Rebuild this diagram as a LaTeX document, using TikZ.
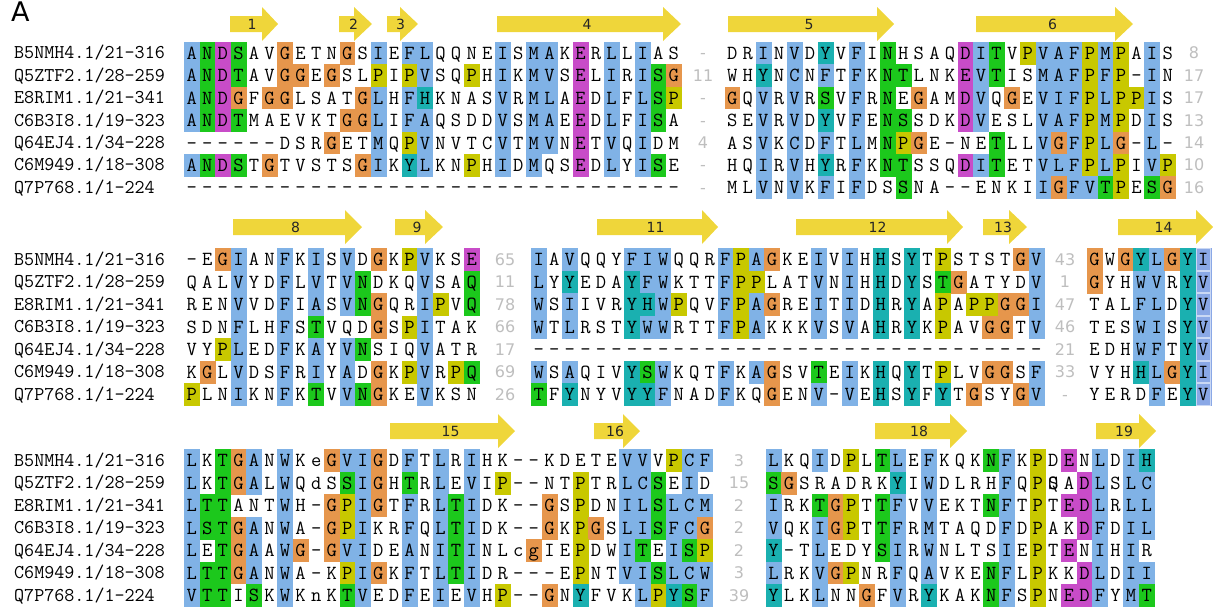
\documentclass[tikz,border=0pt]{standalone}
\usepackage{fontspec}
\newfontfamily\lab{DejaVu Sans}
\newfontfamily\seqf{Latin Modern Mono}
\definecolor{qcb}{RGB}{128,178,230}
\definecolor{qcB}{RGB}{138,168,230}
\definecolor{qcg}{RGB}{28,200,28}
\definecolor{qcm}{RGB}{200,76,200}
\definecolor{qco}{RGB}{230,150,76}
\definecolor{qcy}{RGB}{200,200,0}
\definecolor{qct}{RGB}{26,176,176}
\definecolor{arr}{RGB}{239,214,58}
\definecolor{numgray}{RGB}{190,190,190}
\newcount\sqc \newcount\sqn
\def\cw{15.55}
\def\sqb{17.5}
\newcommand\sqrow[5]{\def\sqx{#1}\def\sqy{#2}\def\sqh{#3}\global\sqc=0 \sqloop#4\relax#5\relax}
\def\sqloop#1#2\relax#3#4\relax{\sqcell{#1}{#3}\if\relax\detokenize{#2}\relax\else\sqloop#2\relax#4\relax\fi}
\def\sqcell#1#2{%
  \if#2.\else\fill[fill=qc#2] (\sqx+\the\sqc*\cw,\sqy) rectangle ++(\cw+0.4,\sqh+0.4);\fi
  \if#2B\draw[draw=qcB!45!white, line width=0.8pt] (\sqx+\the\sqc*\cw+0.6,\sqy+0.5) rectangle ++(\cw-1.2,\sqh-1);\fi
  \global\advance\sqn by 1
  \if#1Z\node[sq] (q\the\sqn) at (\sqx+\the\sqc*\cw+0.5*\cw,\sqy+\sqb) {\rlap{Q}S};%
  \else\node[sq] (q\the\sqn) at (\sqx+\the\sqc*\cw+0.5*\cw,\sqy+\sqb) {#1};\fi
  \global\advance\sqc by 1\relax}
\newcommand\names[3]{%
  \node[nm] (#1a) at (14,#2+17) {B5NMH4.1/21-316};
  \node[nm] (#1b) at (14,#2+#3+17) {Q5ZTF2.1/28-259};
  \node[nm] (#1c) at (14,#2+2*#3+17) {E8RIM1.1/21-341};
  \node[nm] (#1d) at (14,#2+3*#3+17) {C6B3I8.1/19-323};
  \node[nm] (#1e) at (14,#2+4*#3+17) {Q64EJ4.1/34-228};
  \node[nm] (#1f) at (14,#2+5*#3+17) {C6M949.1/18-308};
  \node[nm] (#1g) at (14,#2+6*#3+17) {Q7P768.1/1-224};}
\newcommand\numcol[5]{\foreach \t [count=\i from 0] in {#5} {\node[num] (#1\i) at (#2,#3+#4*\i+17) {\t};}}
\newcommand\strand[6]{%
  \fill[fill=arr] (#2,#5-8) -- (#3,#5-8) -- (#3,#5-17) -- (#4,#5) -- (#3,#5+17) -- (#3,#5+8) -- (#2,#5+8) -- cycle;
  \node[lbl] (#1) at ({(#2+#4)/2-2},#5) {#6};}
\tikzset{
  sq/.style={anchor=base, inner sep=0pt, font=\seqf\fontsize{20}{20}\selectfont},
  nm/.style={anchor=base west, inner sep=0pt, font=\seqf\fontsize{19.5}{20}\selectfont},
  num/.style={anchor=base, inner sep=0pt, text=numgray, font=\lab\fontsize{16}{16}\selectfont},
  lbl/.style={inner sep=0pt, font=\lab\fontsize{14}{14}\selectfont, text=black!85}
}
\begin{document}
\begin{tikzpicture}[x=1pt,y=-1pt]
\useasboundingbox (0,0) rectangle (1216,606);
\node[anchor=base west, inner sep=0pt, font=\lab\fontsize{27}{27}\selectfont] (panelA) at (11,21) {A};
% ---------- block 1 ----------
\strand{s1}{230}{262}{278}{24}{1}
\strand{s2}{339}{354}{372}{24}{2}
\strand{s3}{387}{400}{418}{24}{3}
\strand{s4}{497}{663}{681}{24}{4}
\strand{s5}{728}{877}{894}{24}{5}
\strand{s6}{976}{1115}{1133}{24}{6}
\names{na}{41.7}{22.45}
\sqrow{184}{41.7}{22.45}{ANDSAVGETNGSIEFLQQNEISMAKERLLIAS}{bgmg..o...o.b.bb....b.bb.m.b.b..}
\sqrow{184}{64.15}{22.45}{ANDTAVGGEGSLPIPVSQPHIKMVSELIRISG}{bgmg..oo.o..y.yb..y.b.bb.m.b.bgo}
\sqrow{184}{86.6}{22.45}{ANDGFGGLSATGLHFHKNASVRMLAEDLFLSP}{bgmo.oo....ob.bt....b.bb.m.b.bgy}
\sqrow{184}{109.05}{22.45}{ANDTMAEVKTGGLIFAQSDDVSMAEEDLFISA}{bgmg......oob.bb....b.bb.m.b.bg.}
\sqrow{184}{131.5}{22.45}{------DSRGETMQPVNVTCVTMVNETVQIDM}{.........o..b.yb....b.bb.m.b.b..}
\sqrow{184}{153.95}{22.45}{ANDSTGTVSTSGIKYLKNPHIDMQSEDLYISE}{bgmg.o.....ob.tb..y.b.b..m.b.bg.}
\sqrow{184}{176.4}{22.45}{--------------------------------}{................................}
\numcol{ka}{703}{41.7}{22.45}{-,11,-,-,4,-,-}
\sqrow{724.5}{41.7}{22.45}{DRINVDYVFINHSAQDITVPVAFPMPAIS}{..b.b.t.b.g....mbg.ybbbyby.b.}
\sqrow{724.5}{64.15}{22.45}{WHYNCNFTFKNTLNKEVTISMAFPFP-IN}{..t.b.b.b.gg...mbg..bbbyby.b.}
\sqrow{724.5}{86.6}{22.45}{GQVRVRSVFRNEGAMDVQGEVIFPLPPIS}{o.b.b.g.b.g.o..mb.o.bbbybyyb.}
\sqrow{724.5}{109.05}{22.45}{SEVRVDYVFENSSDKDVESLVAFPMPDIS}{..b.b.t.b.gg...mb...bbbyby.b.}
\sqrow{724.5}{131.5}{22.45}{ASVKCDFTLMNPGE-NETLLVGFPLG-L-}{..b.b.b.b.gyo....g..bobybo.b.}
\sqrow{724.5}{153.95}{22.45}{HQIRVHYRFKNTSSQDITETVLFPLPIVP}{..b.b.t.b.gg...mbg..bbbyby.by}
\sqrow{724.5}{176.4}{22.45}{MLVNVKFIFDSSNA--ENKIIGFVTPESG}{..b.b.b.b..g........bobbgy.go}
\numcol{kb}{1194}{41.7}{22.45}{8,17,17,13,14,10,16}
% ---------- block 2 ----------
\strand{s8}{233}{345}{362}{227}{8}
\strand{s9}{395}{425}{443}{227}{9}
\strand{s11}{597}{702}{718}{227}{11}
\strand{s12}{796}{947}{963}{227}{12}
\strand{s13}{983}{1009}{1027}{227}{13}
\strand{s14}{1118}{1196}{1213}{227}{14}
\names{nb}{248.3}{22.49}
\sqrow{184}{248.3}{22.49}{-EGIANFKISVDGKPVKSE}{..ob..b.b.b.o.yb..m}
\sqrow{184}{270.79}{22.49}{QALVYDFLVTVNDKQVSAQ}{...b..b.b.bg...b..g}
\sqrow{184}{293.28}{22.49}{RENVVDFIASVNGQRIPVQ}{...b..b.b.bgo..by.g}
\sqrow{184}{315.77}{22.49}{SDNFLHFSTVQDGSPITAK}{...b..b.g...o.yb...}
\sqrow{184}{338.26}{22.49}{VYPLEDFKAYVNSIQVATR}{..yb..b.b.bg...b...}
\sqrow{184}{360.75}{22.49}{KGLVDSFRIYADGKPVRPQ}{.o.b..b.b.b.o.yb.yg}
\sqrow{184}{383.24}{22.49}{PLNIKNFKTVVNGKEVKSN}{y..b..b.g.bgo..b...}
\numcol{kc}{505}{248.3}{22.49}{65,11,78,66,17,69,26}
\sqrow{531}{248.3}{22.49}{IAVQQYFIWQQRFPAGKEIVIHHSYTPSTSTGV}{b.b...bbb...bybo..b.b.t.t.y....ob}
\sqrow{531}{270.79}{22.49}{LYYEDAYFWKTTFPPLATVNIHHDYSTGATYDV}{b.t...tbb...byy...b.b.t.t.go....b}
\sqrow{531}{293.28}{22.49}{WSIIVRYHWPQVFPAGREITIDHRYAPAPPGGI}{b.b...ttby..bybo..b.b.t.t.y.yyoob}
\sqrow{531}{315.77}{22.49}{WTLRSTYWWRTTFPAKKKVSVAHRYKPAVGGTV}{b.b...tbb...byb...b.b.t.t.y..oo.b}
\sqrow{531}{338.26}{22.49}{---------------------------------}{.................................}
\sqrow{531}{360.75}{22.49}{WSAQIVYSWKQTFKAGSVTEIKHQYTPLVGGSF}{b.b...tgb...b.bo..g.b.t.t.y..oo.b}
\sqrow{531}{383.24}{22.49}{TFYNYVYYFNADFKQGENV-VEHSYFYTGSYGV}{g.t...ttb...b..o..b.b.t.t.t.o..ob}
\numcol{kd}{1065}{248.3}{22.49}{43,1,47,46,21,33,-}
\sqrow{1086.7}{248.3}{22.49}{GWGYLGYI}{o.otbotB}
\sqrow{1086.7}{270.79}{22.49}{GYHWVRYV}{o..bb.tB}
\sqrow{1086.7}{293.28}{22.49}{TALFLDYV}{...bb.tB}
\sqrow{1086.7}{315.77}{22.49}{TESWISYV}{...bb.tB}
\sqrow{1086.7}{338.26}{22.49}{EDHWFTYV}{...bb.tB}
\sqrow{1086.7}{360.75}{22.49}{VYHHLGYI}{...tbotB}
\sqrow{1086.7}{383.24}{22.49}{YERDFEYV}{....b.tB}
% ---------- block 3 ----------
\strand{s15}{390}{498}{515}{431}{15}
\strand{s16}{594}{623}{640}{431}{16}
\strand{s18}{875}{950}{967}{431}{18}
\strand{s19}{1096}{1139}{1156}{431}{19}
\names{nc}{449.3}{22.45}
\sqrow{184}{449.3}{22.45}{LKTGANWKeGVIGDFTLRIHK--KDETEVVVPCF}{b.gob.b..obbo.b.b.b.........bb.ybb}
\sqrow{184}{471.75}{22.45}{LKTGALWQdSSIGHTRLEVIP--NTPTRLCSEID}{b.gob.b...gbo.g.b.b.y....y..bbg.b.}
\sqrow{184}{494.2}{22.45}{LTTANTWH-GPIGTFRLTIDK--GSPDNILSLCM}{bgg...b..oybo.b.bgb....o.y..bbgbbb}
\sqrow{184}{516.65}{22.45}{LSTGANWA-GPIKRFQLTIDK--GKPGSLISFCG}{bggob.b..oyb..b.bgb....o.yo.bbgbbo}
\sqrow{184}{539.1}{22.45}{LETGAAWG-GVIDEANITINLcgIEPDWITEISP}{b.gob.bo.obb..b.bgb...o..y..bg.bgy}
\sqrow{184}{561.55}{22.45}{LTTGANWA-KPIGKFTLTIDR---EPNTVISLCW}{bggob.b...ybo.b.bgb......y..bbgbbb}
\sqrow{184}{584}{22.45}{VTTISKWKnKTVEDFEIEVHP--GNYFVKLPYSF}{bgg.g.b...gb..b.b.b.y..o.t...bytgb}
\numcol{ke}{739}{449.3}{22.45}{3,15,2,2,2,3,39}
\sqrow{765.7}{449.3}{22.45}{LKQIDPLTLEFKQKNFKPDENLDIH}{b..b.y.gb.b...gb.y.m.b.bt}
\sqrow{765.7}{471.75}{22.45}{SGSRADRKYIWDLRHFQPZADLSLC}{go......t.b....b.y..mb.bb}
\sqrow{765.7}{494.2}{22.45}{IRKTGPTTFVVEKTNFTPTEDLRLL}{b..goy.gb.b...gb.y.mmb.bb}
\sqrow{765.7}{516.65}{22.45}{VQKIGPTTFRMTAQDFDPAKDFDIL}{b..boy.gb.b....b.y..mb.bb}
\sqrow{765.7}{539.1}{22.45}{Y-TLEDYSIRWNLTSIEPTENIHIR}{t..b...gb.b....b.y.m.b.b.}
\sqrow{765.7}{561.55}{22.45}{LRKVGPNRFQAVKENFLPKKDLDII}{b..boy..b.b...gb.y..mb.bb}
\sqrow{765.7}{584}{22.45}{YLKLNNGFVRYKAKNFSPNEDFYMT}{t..b..o.b.t...gb.y.mmb.bg}
\end{tikzpicture}
\end{document}
